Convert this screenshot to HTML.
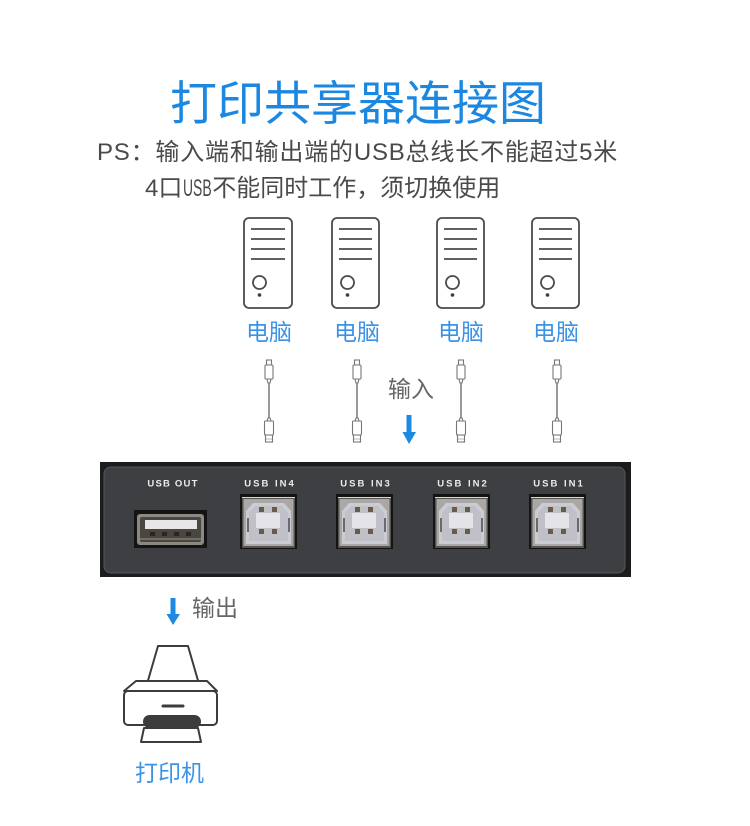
<!DOCTYPE html>
<html><head><meta charset="utf-8">
<style>
html,body{margin:0;padding:0;background:#fff;}
body{width:750px;height:826px;position:relative;overflow:hidden;}
.t{position:absolute;white-space:nowrap;font-family:"Liberation Sans","Noto Sans CJK SC",sans-serif;line-height:1;}
svg{position:absolute;left:0;top:0;}
.usb{display:inline-block;transform:scaleX(0.58);transform-origin:0 50%;margin-right:-20.5px;margin-left:1px;}
</style></head><body>
<svg width="750" height="826" viewBox="0 0 750 826" xmlns="http://www.w3.org/2000/svg">
  <!-- computers -->
  <g fill="none" stroke="#4a4a4a" stroke-width="1.8">
    <g>
      <rect x="244" y="218" width="48" height="90" rx="5"/>
      <line x1="251" y1="229" x2="285" y2="229"/><line x1="251" y1="239" x2="285" y2="239"/>
      <line x1="251" y1="249" x2="285" y2="249"/><line x1="251" y1="259" x2="285" y2="259"/>
      <circle cx="259.5" cy="282.5" r="6.5"/>
    </g>
    <g transform="translate(88,0)">
      <rect x="244" y="218" width="47" height="90" rx="5"/>
      <line x1="251" y1="229" x2="284" y2="229"/><line x1="251" y1="239" x2="284" y2="239"/>
      <line x1="251" y1="249" x2="284" y2="249"/><line x1="251" y1="259" x2="284" y2="259"/>
      <circle cx="259.5" cy="282.5" r="6.5"/>
    </g>
    <g transform="translate(193,0)">
      <rect x="244" y="218" width="47" height="90" rx="5"/>
      <line x1="251" y1="229" x2="284" y2="229"/><line x1="251" y1="239" x2="284" y2="239"/>
      <line x1="251" y1="249" x2="284" y2="249"/><line x1="251" y1="259" x2="284" y2="259"/>
      <circle cx="259.5" cy="282.5" r="6.5"/>
    </g>
    <g transform="translate(288,0)">
      <rect x="244" y="218" width="47" height="90" rx="5"/>
      <line x1="251" y1="229" x2="284" y2="229"/><line x1="251" y1="239" x2="284" y2="239"/>
      <line x1="251" y1="249" x2="284" y2="249"/><line x1="251" y1="259" x2="284" y2="259"/>
      <circle cx="259.5" cy="282.5" r="6.5"/>
    </g>
  </g>
  <g fill="#3a3a3a">
    <circle cx="259.5" cy="295" r="1.8"/><circle cx="347.5" cy="295" r="1.8"/>
    <circle cx="452.5" cy="295" r="1.8"/><circle cx="547.5" cy="295" r="1.8"/>
  </g>

  <!-- cables -->
  <defs>
    <g id="cable" fill="#fff" stroke="#777" stroke-width="1.1">
      <rect x="-2.5" y="360" width="5" height="5"/>
      <rect x="-4" y="365" width="8" height="14" rx="1"/>
      <path d="M-2,379 L-1,383 L1,383 L2,379" fill="none"/>
      <line x1="0" y1="383" x2="0" y2="418" stroke-width="1.5"/>
      <path d="M-2,421 L-1,418 L1,418 L2,421" fill="none"/>
      <rect x="-4.5" y="421" width="9" height="14" rx="1"/>
      <rect x="-3.5" y="435" width="7" height="7"/>
      <line x1="-2.5" y1="439" x2="2.5" y2="439" stroke-dasharray="1,1"/>
    </g>
  </defs>
  <use href="#cable" x="269" y="0"/>
  <use href="#cable" x="357" y="0"/>
  <use href="#cable" x="461" y="0"/>
  <use href="#cable" x="557" y="0"/>

  <!-- arrows -->
  <g fill="#1e88e5">
    <rect x="406.5" y="415" width="5" height="18"/>
    <polygon points="402.5,432 416,432 409,444"/>
    <rect x="170.5" y="598" width="5" height="17"/>
    <polygon points="166.5,614 180,614 173,625"/>
  </g>

  <!-- switch box -->
  <rect x="100" y="462" width="531" height="115" fill="#1b1c1e"/>
  <rect x="104" y="467" width="521" height="106" rx="7" fill="#3d3f43" stroke="#55575b" stroke-width="1"/>
  <g font-family="Liberation Sans, sans-serif" font-weight="bold" font-size="9.5" fill="#ececec" letter-spacing="2">
    <text x="173" y="486.5" text-anchor="middle" letter-spacing="1.2">USB OUT</text>
    <text x="270" y="486.5" text-anchor="middle">USB IN4</text>
    <text x="366" y="486.5" text-anchor="middle">USB IN3</text>
    <text x="463" y="486.5" text-anchor="middle">USB IN2</text>
    <text x="559" y="486.5" text-anchor="middle">USB IN1</text>
  </g>
  <!-- USB-A -->
  <g transform="translate(134,510)">
    <rect x="0" y="0" width="73" height="38" fill="#141414"/>
    <rect x="3" y="4" width="67" height="31" rx="3" fill="#8c8982"/>
    <rect x="6" y="7" width="61" height="25" rx="2" fill="#4a4640"/>
    <rect x="11" y="10" width="52" height="9" fill="#e6e6e6"/>
    <g fill="#2a2622"><rect x="16" y="22" width="5" height="4"/><rect x="28" y="22" width="5" height="4"/><rect x="40" y="22" width="5" height="4"/><rect x="52" y="22" width="5" height="4"/></g>
    <line x1="6" y1="29" x2="67" y2="29" stroke="#9a968e" stroke-width="1"/>
  </g>
  <!-- USB-B ports -->
  <defs>
    <g id="usbb">
      <rect x="0" y="0" width="57" height="55" fill="#141414"/>
      <rect x="2" y="3" width="53" height="51" fill="#55534f"/>
      <line x1="2" y1="3.5" x2="55" y2="3.5" stroke="#d8d8d8" stroke-width="1"/>
      <rect x="3.5" y="5" width="50" height="47" fill="#a9a8a6"/>
      <polygon points="13,9 44,9 51,17 51,50 6,50 6,17" fill="#cbcbd2"/>
      <polygon points="15,12 42,12 48,19 48,47 9,47 9,19" fill="#c0c0c8"/>
      <rect x="16" y="19" width="24" height="15" fill="#e4e4e8"/>
      <g fill="#6a5a48"><rect x="19" y="13" width="5" height="5"/><rect x="32" y="13" width="5" height="5"/><rect x="19" y="35" width="5" height="5"/><rect x="32" y="35" width="5" height="5"/></g>
      <rect x="7" y="24" width="2" height="14" fill="#6a6a6a"/>
      <rect x="48" y="24" width="2" height="14" fill="#6a6a6a"/>
    </g>
  </defs>
  <use href="#usbb" x="240" y="494"/>
  <use href="#usbb" x="336" y="494"/>
  <use href="#usbb" x="433" y="494"/>
  <use href="#usbb" x="529" y="494"/>

  <!-- printer -->
  <g fill="#fff" stroke="#3c3c3c" stroke-width="2" stroke-linejoin="round">
    <polygon points="158,646 188,646 199,684 147,684"/>
    <path d="M136,681 L207,681 L217,691 L124,691 Z"/>
    <rect x="124" y="691" width="93" height="34" rx="4"/>
    <polygon points="144,728 198,728 201,742 141,742"/>
  </g>
  <line x1="163" y1="706" x2="183" y2="706" stroke="#3c3c3c" stroke-width="3" stroke-linecap="round"/>
  <rect x="143" y="715" width="58" height="13" rx="6.5" fill="#3c3c3c"/>
</svg>

<div class="t" style="left:170px;top:80px;font-size:47px;color:#1c87e0;">打印共享器连接图</div>
<div class="t" style="left:97px;top:141px;font-size:24px;color:#4a4a4a;letter-spacing:0.8px;">PS：输入端和输出端的USB总线长不能超过5米</div>
<div class="t" style="left:145px;top:177px;font-size:24px;color:#4a4a4a;">4口<span class="usb">USB</span>不能同时工作，须切换使用</div>

<div class="t" style="left:246px;top:321px;font-size:23px;color:#3b93e6;">电脑</div>
<div class="t" style="left:334px;top:321px;font-size:23px;color:#3b93e6;">电脑</div>
<div class="t" style="left:438px;top:321px;font-size:23px;color:#3b93e6;">电脑</div>
<div class="t" style="left:533px;top:321px;font-size:23px;color:#3b93e6;">电脑</div>

<div class="t" style="left:388px;top:378px;font-size:23px;color:#666;">输入</div>
<div class="t" style="left:192px;top:597px;font-size:23px;color:#666;">输出</div>
<div class="t" style="left:135px;top:762px;font-size:23px;color:#3b93e6;">打印机</div>
</body></html>
